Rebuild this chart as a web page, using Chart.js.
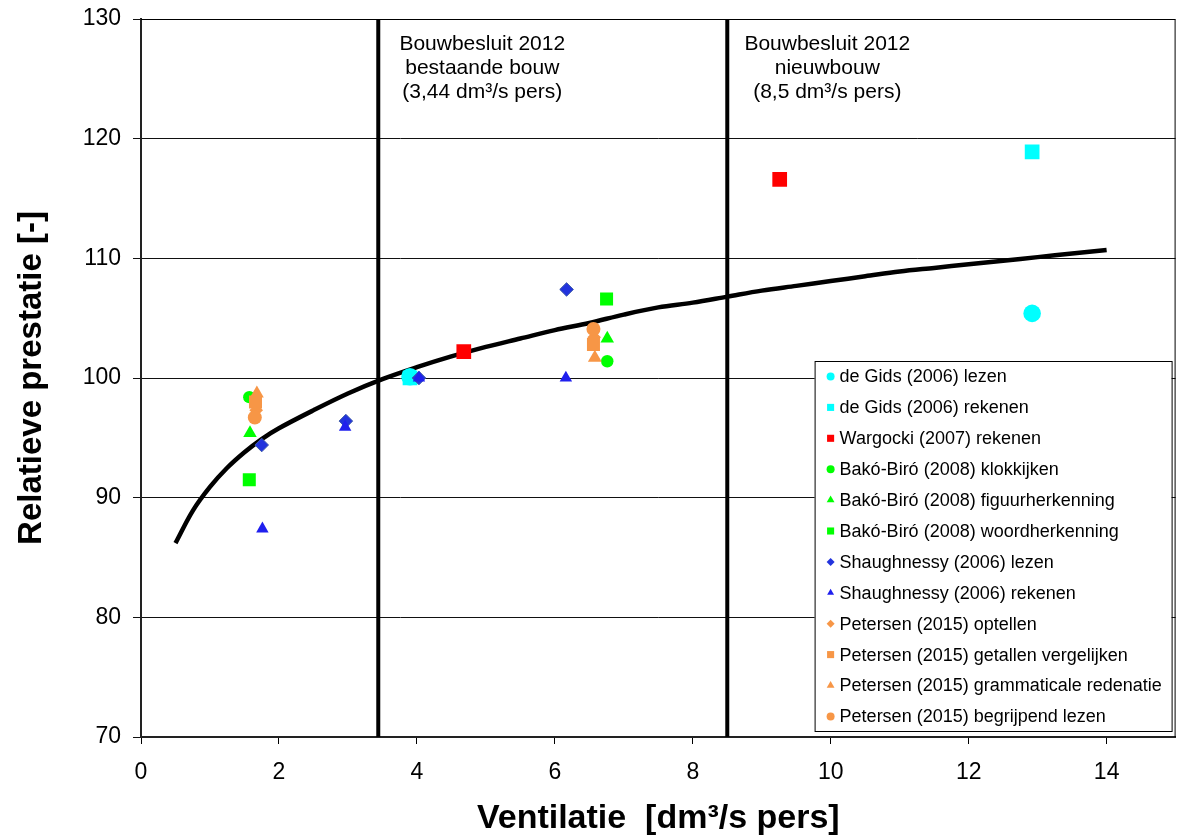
<!DOCTYPE html>
<html>
<head>
<meta charset="utf-8">
<script src="https://cdn.jsdelivr.net/npm/chart.js@4.4.1/dist/chart.umd.min.js"></script>
<style>
  html, body { margin: 0; padding: 0; background: #fff; }
  #wrap { width: 1186px; height: 839px; }
</style>
</head>
<body>
<div id="wrap"><canvas id="grafiek" width="1186" height="839"></canvas></div>
<script>
// Meetpunten per studie: [ventilatie, relatieve prestatie]
const deGidsLezen = [[3.9, 100.1], [12.92, 105.4]];
const deGidsRekenen = [[3.9, 100.0], [12.92, 118.9]];
const wargockiRekenen = [[4.68, 102.2], [9.26, 116.6]];
const bakoKlokkijken = [[1.57, 98.4], [6.76, 101.4]];
const bakoFiguur = [[1.58, 95.4], [6.76, 103.3]];
const bakoWoord = [[1.57, 91.5], [6.75, 106.6]];
const shaughLezen = [[1.75, 94.4], [2.97, 96.4], [4.03, 100.0], [6.17, 107.4]];
const shaughRekenen = [[1.76, 87.4], [2.96, 95.9], [4.03, 100.0], [6.16, 100.0]];
const petersenOptellen = [[1.67, 97.3], [6.57, 103.4]];
const petersenGetallen = [[1.66, 98.0], [6.56, 102.8]];
const petersenGrammatica = [[1.68, 98.7], [6.58, 101.7]];
const petersenBegrijpend = [[1.65, 96.7], [6.56, 104.1]];

const curveX = [0.5, 0.75, 1, 1.25, 1.5, 1.75, 2, 2.5, 3, 3.5, 4, 4.5, 5, 5.5, 6, 6.5, 7, 7.5,
  8, 8.5, 9, 9.5, 10, 10.5, 11, 11.5, 12, 12.5, 13, 13.5, 14];
const curveY = [86.2, 88.9, 90.9, 92.5, 93.8, 94.9, 95.8, 97.3, 98.7, 99.9, 100.9, 101.8, 102.6, 103.3,
  104.0, 104.6, 105.3, 105.9, 106.3, 106.8, 107.3, 107.7, 108.1, 108.5, 108.9, 109.2, 109.5, 109.8,
  110.1, 110.4, 110.7];

// Bouwbesluit-grenzen
const grensWaarden = [3.44, 8.5];
const grensTeksten = [
  ['Bouwbesluit 2012', 'bestaande bouw', '(3,44 dm³/s pers)'],
  ['Bouwbesluit 2012', 'nieuwbouw', '(8,5 dm³/s pers)']
];

const xTicks = [0, 2, 4, 6, 8, 10, 12, 14];
const yMin = 70, yMax = 130;

const FONT = "'Liberation Sans', Arial, sans-serif";
const oranje = '#f79646';

const reeksen = [
  { label: 'de Gids (2006) lezen', data: deGidsLezen, style: 'circle', color: '#00ffff', r: 8.8, lr: 4 },
  { label: 'de Gids (2006) rekenen', data: deGidsRekenen, style: 'rect', color: '#00ffff', r: 10.4, lr: 5 },
  { label: 'Wargocki (2007) rekenen', data: wargockiRekenen, style: 'rect', color: '#ff0000', r: 10.4, lr: 5 },
  { label: 'Bakó-Biró (2008) klokkijken', data: bakoKlokkijken, style: 'circle', color: '#00ff00', r: 6.2, lr: 4 },
  { label: 'Bakó-Biró (2008) figuurherkenning', data: bakoFiguur, style: 'triangle', color: '#00ff00', r: 7.8, lr: 4.5 },
  { label: 'Bakó-Biró (2008) woordherkenning', data: bakoWoord, style: 'rect', color: '#00ff00', r: 9.2, lr: 5 },
  { label: 'Shaughnessy (2006) lezen', data: shaughLezen, style: 'rectRot', color: '#2233dd', r: 6.8, lr: 4, border: '#3d5aa8' },
  { label: 'Shaughnessy (2006) rekenen', data: shaughRekenen, style: 'triangle', color: '#1f1fee', r: 7.2, lr: 4 },
  { label: 'Petersen (2015) optellen', data: petersenOptellen, style: 'rectRot', color: oranje, r: 6.8, lr: 4 },
  { label: 'Petersen (2015) getallen vergelijken', data: petersenGetallen, style: 'rect', color: oranje, r: 9.2, lr: 5 },
  { label: 'Petersen (2015) grammaticale redenatie', data: petersenGrammatica, style: 'triangle', color: oranje, r: 8, lr: 4.5 },
  { label: 'Petersen (2015) begrijpend lezen', data: petersenBegrijpend, style: 'circle', color: oranje, r: 7, lr: 4 }
];

const datasets = reeksen.map((s, i) => ({
  label: s.label,
  data: s.data.map(p => ({ x: p[0], y: p[1] })),
  pointStyle: s.style,
  pointRadius: s.r,
  pointHoverRadius: s.r,
  backgroundColor: s.color,
  borderColor: s.border || s.color,
  pointBorderWidth: s.border ? 1 : 0,
  legendRadius: s.lr,
  order: -i
}));

// trendlijn en grenslijnen onderaan
datasets.push({
  label: '',
  isHulp: true,
  data: curveX.map((x, i) => ({ x: x, y: curveY[i] })),
  showLine: true,
  borderColor: '#000',
  borderWidth: 4.5,
  pointRadius: 0,
  tension: 0.35,
  order: 20
});
grensWaarden.forEach(g => {
  datasets.push({
    label: '',
    isHulp: true,
    data: [{ x: g, y: yMin }, { x: g, y: yMax }],
    showLine: true,
    borderColor: '#000',
    borderWidth: 4,
    pointRadius: 0,
    order: 21
  });
});

const kaderPlugin = {
  id: 'kader',
  afterDraw(chart) {
    const ctx = chart.ctx;
    const ca = chart.chartArea;
    ctx.save();
    ctx.strokeStyle = '#000';
    ctx.lineWidth = 1;
    ctx.beginPath();
    ctx.moveTo(ca.left, ca.top + 0.5);
    ctx.lineTo(ca.right - 0.5, ca.top + 0.5);
    ctx.lineTo(ca.right - 0.5, ca.bottom);
    ctx.stroke();
    ctx.restore();
  }
};

const tekstPlugin = {
  id: 'grensTekst',
  afterDraw(chart) {
    const ctx = chart.ctx;
    const xs = chart.scales.x;
    const offsets = [104, 100];
    ctx.save();
    ctx.fillStyle = '#000';
    ctx.font = '21px ' + FONT;
    ctx.textAlign = 'center';
    ctx.textBaseline = 'middle';
    grensWaarden.forEach((g, i) => {
      const cx = xs.getPixelForValue(g) + offsets[i];
      grensTeksten[i].forEach((t, j) => {
        ctx.fillText(t, cx, 44 + j * 24);
      });
    });
    ctx.restore();
  }
};

const legendaPlugin = {
  id: 'legenda',
  afterDraw(chart) {
    const ctx = chart.ctx;
    const ca = chart.chartArea;
    const items = chart.data.datasets.filter(d => !d.isHulp);
    const right = ca.right - 4, bottom = ca.bottom - 6;
    const w = 357, h = 370;
    const left = right - w, top = bottom - h;
    ctx.save();
    ctx.fillStyle = '#fff';
    ctx.fillRect(left, top, w, h);
    ctx.strokeStyle = '#000';
    ctx.lineWidth = 1;
    ctx.strokeRect(left + 0.5, top + 0.5, w, h);
    ctx.font = '18px ' + FONT;
    ctx.textBaseline = 'middle';
    ctx.textAlign = 'left';
    items.forEach((d, i) => {
      const y = top + 15.5 + i * 30.9;
      ctx.fillStyle = d.backgroundColor;
      ctx.strokeStyle = d.borderColor;
      Chart.helpers.drawPoint(ctx, {
        pointStyle: d.pointStyle, rotation: 0, radius: d.legendRadius, borderWidth: 0
      }, left + 16, y);
      ctx.fillStyle = '#000';
      ctx.fillText(d.label, left + 25, y + 1);
    });
    ctx.restore();
  }
};

new Chart(document.getElementById('grafiek'), {
  type: 'scatter',
  data: { datasets: datasets },
  options: {
    responsive: false,
    animation: false,
    layout: { padding: { top: 19, right: 5, left: 0, bottom: 0 } },
    plugins: {
      legend: { display: false },
      tooltip: { enabled: false }
    },
    scales: {
      x: {
        type: 'linear',
        min: 0,
        max: 15,
        afterFit: s => { s.height = 102; s.paddingLeft = 0; s.paddingRight = 0; },
        afterBuildTicks: s => { s.ticks = xTicks.map(v => ({ value: v })); },
        ticks: { stepSize: 2, includeBounds: false, color: '#000', font: { family: FONT, size: 23 }, padding: 15 },
        grid: { drawOnChartArea: false, drawTicks: true, tickLength: 7, color: '#000' },
        border: { display: true, color: '#222', width: 2 },
        title: {
          display: true,
          text: 'Ventilatie  [dm³/s pers]',
          color: '#000',
          font: { family: FONT, size: 34, weight: 'bold' },
          padding: { top: 0, bottom: 0 }
        }
      },
      y: {
        min: yMin,
        max: yMax,
        afterFit: s => { s.width = 141; s.paddingTop = 0; s.paddingBottom = 0; },
        ticks: { stepSize: 10, color: '#000', font: { family: FONT, size: 23 }, padding: 12 },
        grid: { color: '#111', lineWidth: 1, drawTicks: true, tickLength: 8 },
        border: { display: true, color: '#222', width: 2 },
        title: {
          display: true,
          text: 'Relatieve prestatie [-]',
          color: '#000',
          font: { family: FONT, size: 33, weight: 'bold' },
          padding: { top: 12, bottom: 0 }
        }
      }
    }
  },
  plugins: [kaderPlugin, tekstPlugin, legendaPlugin]
});
</script>
</body>
</html>
